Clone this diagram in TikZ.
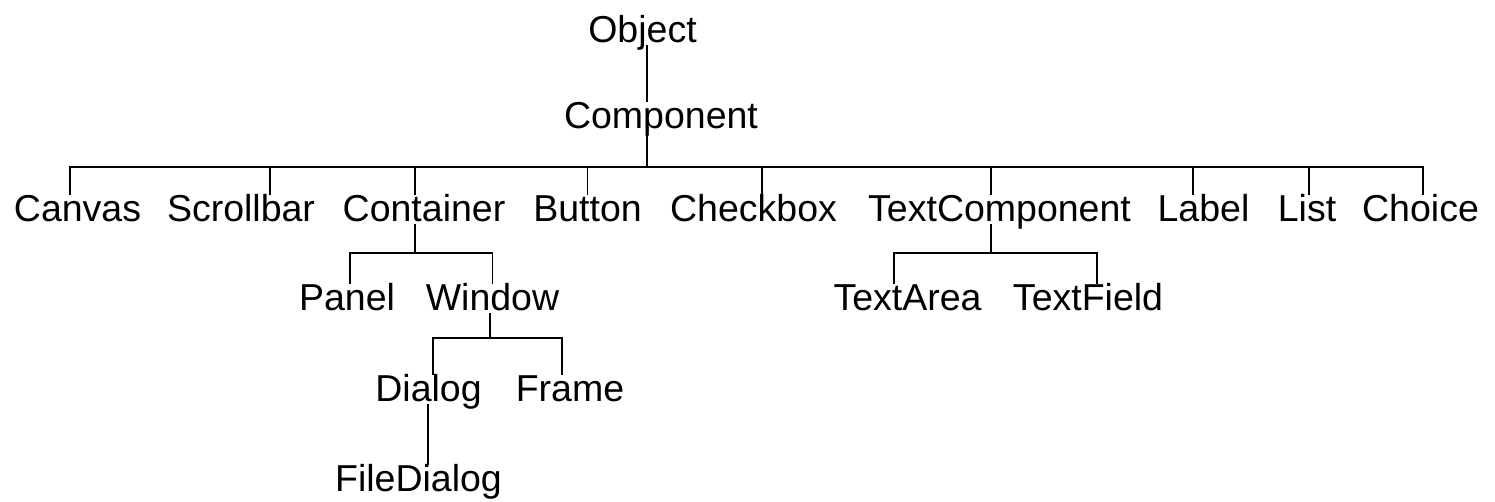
\documentclass[tikz,border=0pt]{standalone}
\usepackage{fontspec}
\setmainfont{Liberation Sans}
\usepackage{tikz}
\usetikzlibrary{positioning}
\tikzset{cls/.style={font=\fontsize{37.5}{40}\selectfont, inner sep=0pt, text height=26pt, text depth=3pt, anchor=base},
         link/.style={line width=1.6pt, black}}

\begin{document}
\begin{tikzpicture}[x=1pt, y=-1pt]
        \useasboundingbox (0,0) rectangle (1495,501);
        % Class names, placed on their baselines
        \node[cls] (object) at (642.5,42) {Object};
        \node[cls] (component) at (661,128) {Component};

        \node[cls] (canvas) at (77.5,221) {Canvas};
        \node[cls] (scrollbar) at (241,221) {Scrollbar};
        \node[cls] (container) at (424,221) {Container};
        \node[cls] (button) at (587.5,221) {Button};
        \node[cls] (checkbox) at (753.5,221) {Checkbox};
        \node[cls] (textcomponent) at (999.5,221) {TextComponent};
        \node[cls] (label) at (1203.5,221) {Label};
        \node[cls] (list) at (1307,221) {List};
        \node[cls] (choice) at (1420.5,221) {Choice};

        \node[cls] (panel) at (347,310) {Panel};
        \node[cls] (window) at (492.5,310) {Window};
        \node[cls] (textarea) at (907.5,310) {TextArea};
        \node[cls] (textfield) at (1088,310) {TextField};

        \node[cls] (dialog) at (428.5,401) {Dialog};
        \node[cls] (frame) at (570,401) {Frame};

        \node[cls] (filedialog) at (418.5,491) {FileDialog};

        % Inheritance lines
        \draw[link] ([xshift=4.5pt]object.south) -- ([xshift=-14pt]component.north);

        \draw[link] ([xshift=-14pt]component.south) -- ++(0,36) -| ([xshift=-7.5pt]canvas.north);
        \draw[link] ([xshift=-14pt]component.south) -- ++(0,36) -| ([xshift=29pt]scrollbar.north);
        \draw[link] ([xshift=-14pt]component.south) -- ++(0,36) -| ([xshift=-9pt]container.north);
        \draw[link] ([xshift=-14pt]component.south) -- ++(0,36) -| (button.north);
        \draw[link] ([xshift=-14pt]component.south) -- ++(0,36) -| ([xshift=8.5pt]checkbox.north);
        \draw[link] ([xshift=-14pt]component.south) -- ++(0,36) -| ([xshift=-8.5pt]textcomponent.north);
        \draw[link] ([xshift=-14pt]component.south) -- ++(0,36) -| ([xshift=-10.5pt]label.north);
        \draw[link] ([xshift=-14pt]component.south) -- ++(0,36) -| ([xshift=2pt]list.north);
        \draw[link] ([xshift=-14pt]component.south) -- ++(0,36) -| ([xshift=2.5pt]choice.north);

        \draw[link] ([xshift=-9pt]container.south) -- ++(0,29) -| ([xshift=3pt]panel.north);
        \draw[link] ([xshift=-9pt]container.south) -- ++(0,29) -| (window.north);

        \draw[link] ([xshift=-8.5pt]textcomponent.south) -- ++(0,29) -| ([xshift=-13.5pt]textarea.north);
        \draw[link] ([xshift=-8.5pt]textcomponent.south) -- ++(0,29) -| ([xshift=9pt]textfield.north);

        \draw[link] ([xshift=-2.5pt]window.south) -- ++(0,25) -| ([xshift=4.5pt]dialog.north);
        \draw[link] ([xshift=-2.5pt]window.south) -- ++(0,25) -| ([xshift=-8pt]frame.north);

        \draw[link] ([xshift=-0.5pt]dialog.south) -- ([xshift=9.5pt]filedialog.north);
\end{tikzpicture}
\end{document}
